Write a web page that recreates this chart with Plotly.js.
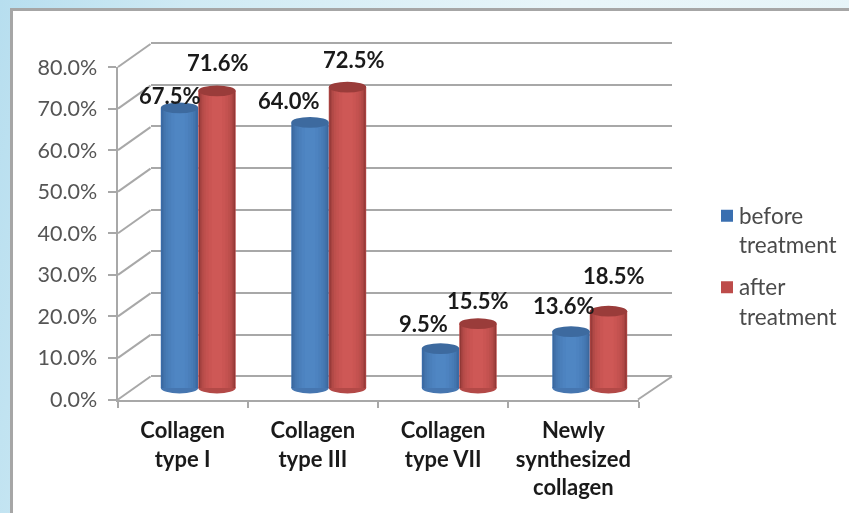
<!DOCTYPE html>
<html>
<head>
<meta charset="utf-8">
<script src="https://cdn.plot.ly/plotly-3.0.1.min.js"></script>
<style>
html,body{margin:0;padding:0;width:849px;height:513px;overflow:hidden;
background:linear-gradient(100deg,#b7deef 0%,#cfeaf4 20%,#e8f5f9 60%,#e6f4f8 100%);}
#chart{width:849px;height:513px;filter:blur(0.7px);}
</style>
</head>
<body>
<div id="chart"></div>
<script>
const categories = ['Collagen<br>type I','Collagen<br>type III','Collagen<br>type VII','Newly<br>synthesized<br>collagen'];
const beforeTreatment = [67.5,64.0,9.5,13.6];
const afterTreatment = [71.6,72.5,15.5,18.5];
const yTickValues = [0,10,20,30,40,50,60,70,80];
const yTickLabels = ['0.0%','10.0%','20.0%','30.0%','40.0%','50.0%','60.0%','70.0%','80.0%'];
const beforeLabelShift = [[-10,12],[-21,22],[-17,25],[-7,26]];
const afterLabelShift = [[1,28],[7,28],[0,23],[6,36]];
const blueShades = [[1,'#355f92'],[0.96,'#3b689e'],[0.9,'#4070a8'],[0.82,'#4476b0'],[0.72,'#477bb6'],[0.6,'#4a7fbb'],[0.45,'#4d83c0'],[0.28,'#4f86c3']];
const redShades = [[1,'#7e2f2d'],[0.96,'#913836'],[0.9,'#a64341'],[0.82,'#b44a48'],[0.72,'#bd4f4c'],[0.6,'#c45250'],[0.45,'#ca5553'],[0.28,'#ce5856']];

const W=849,H=513;
const xd=(a,b)=>[a/W,b/W], yd=(top,bot)=>[1-bot/H,1-top/H];
const barW=0.287;
const grey='#a8a8a8';
const traces=[];
traces.push({x:[],y:[],type:'scatter',xaxis:'x',yaxis:'y',showlegend:false,hoverinfo:'skip'});
function addSeries(vals,name,shades,sign,group,legendColor){
  shades.forEach((s,i)=>{
    traces.push({type:'bar',name:name,showlegend:i===0,legendgroup:group,xaxis:'x2',yaxis:'y2',
      x:vals.map((_,k)=>k+0.5+sign*barW/2),y:vals,width:barW*s[0],
      marker:{color:i===0?legendColor:s[1],line:{width:0}},hoverinfo:'skip'});
  });
}
addSeries(beforeTreatment,'before<br>treatment',blueShades,-1,'a','#3a6fb0');
addSeries(afterTreatment,'after<br>treatment',redShades,1,'b','#bd4c4a');
traces.push({x:[0],y:[0],type:'scatter',mode:'markers',marker:{opacity:0},xaxis:'x3',yaxis:'y3',showlegend:false,hoverinfo:'skip'});

const shapes=[];
shapes.push({type:'rect',xref:'paper',yref:'paper',x0:11.5/W,x1:870/W,y0:1-530/H,y1:1-9.5/H,layer:'below',
  fillcolor:'#ffffff',line:{color:'#a6a6a6',width:3}});
const frontBot=399.5,frontTop=67,dxD=32.5,dyD=23;
yTickValues.forEach(v=>{
  const py=frontBot-(frontBot-frontTop)*v/80;
  shapes.push({type:'line',xref:'paper',yref:'paper',layer:'below',x0:118/W,x1:(118+dxD)/W,y0:1-py/H,y1:1-(py-dyD)/H,line:{color:grey,width:2}});
});
shapes.push({type:'line',xref:'paper',yref:'paper',layer:'below',x0:638/W,x1:672/W,y0:1-frontBot/H,y1:1-(frontBot-dyD)/H,line:{color:grey,width:2}});
const capH=2.6;
function caps(vals,sign,bottomCol,topCol){
  vals.forEach((v,k)=>{
    const c=k+0.5+sign*barW/2, x0=c-barW/2, x1=c+barW/2;
    shapes.push({type:'circle',xref:'x2',yref:'y2',layer:'below',x0,x1,y0:-capH/2,y1:capH/2,fillcolor:bottomCol,line:{width:0}});
    shapes.push({type:'circle',xref:'x2',yref:'y2',layer:'above',x0,x1,y0:v-capH/2,y1:v+capH/2,fillcolor:topCol,line:{width:0}});
  });
}
caps(beforeTreatment,-1,'#4676b0','#3d6a9f');
caps(afterTreatment,1,'#b34947','#9a3c3a');

const annotations=[];
function labels(vals,sign,shift){
  vals.forEach((v,k)=>annotations.push({xref:'x2',yref:'y2',x:k+0.5+sign*barW/2,y:v,
    text:'<b>'+v.toFixed(1)+'%</b>',showarrow:false,xshift:shift[k][0],yshift:shift[k][1],
    font:{family:'Lato, sans-serif',size:22,color:'#1a1a1a'}}));
}
labels(beforeTreatment,-1,beforeLabelShift);
labels(afterTreatment,1,afterLabelShift);

const legendX=680, legendTargetX=707;
const layout={
  width:W,height:H,autosize:false,margin:{l:0,r:0,t:0,b:0},
  paper_bgcolor:'rgba(0,0,0,0)',plot_bgcolor:'rgba(0,0,0,0)',
  barmode:'overlay',shapes,annotations,
  font:{family:'Lato, sans-serif'},
  legend:{x:legendX/W,xanchor:'left',y:1-194/H,yanchor:'top',bgcolor:'rgba(0,0,0,0)',
    font:{family:'Lato, sans-serif',size:22.5,color:'#4a4a4a'},itemclick:false,itemwidth:30,tracegroupgap:10},
  xaxis:{domain:xd(150.5,672),range:[0,1],visible:false,anchor:'y'},
  yaxis:{domain:yd(41,378.5),range:[-0.5,80.5],anchor:'x',tickvals:yTickValues,showticklabels:false,ticks:'',
    showgrid:true,gridcolor:grey,gridwidth:2,zeroline:false,showline:false},
  xaxis2:{domain:xd(133,655),range:[0,4],visible:false,anchor:'y2'},
  yaxis2:{domain:yd(56,429.5),range:[-10,80],visible:false,anchor:'x2'},
  xaxis3:{domain:xd(117.5,638.5),range:[0,4],anchor:'y3',showgrid:false,zeroline:false,
    showline:true,linecolor:grey,linewidth:2,
    tickmode:'array',tickvals:categories.map((_,i)=>i+0.5),ticktext:categories.map(c=>'<b>'+c.split('<br>').join('</b><br><b>')+'</b>'),
    ticks:'',ticklabelstandoff:10,tickfont:{family:'Lato, sans-serif',size:22,color:'#1a1a1a'},
    minor:{tickmode:'array',tickvals:[0,1,2,3,4],ticks:'outside',ticklen:6,tickcolor:grey,tickwidth:2,showgrid:false}},
  yaxis3:{domain:yd(67,399.5),range:[0,80],anchor:'x3',showgrid:false,zeroline:false,
    showline:true,linecolor:grey,linewidth:2,
    tickmode:'array',tickvals:yTickValues,ticktext:yTickLabels,ticks:'outside',ticklen:8,tickcolor:grey,tickwidth:2,
    ticklabelstandoff:6,tickfont:{family:'Lato, sans-serif',size:21.5,color:'#555555'}}
};
Plotly.newPlot('chart',traces,layout,{displayModeBar:false}).then(gd=>{
  const lg=gd.querySelector('.legend');
  const m=/translate\(([-\d.]+),\s*([-\d.]+)\)/.exec(lg.getAttribute('transform'));
  lg.setAttribute('transform','translate('+(parseFloat(m[1])+legendTargetX-legendX)+','+m[2]+')');
  gd.querySelectorAll('.legend .traces').forEach(tr=>{
    const sym=tr.querySelector('.legendsymbols');
    if(sym) sym.setAttribute('transform','translate(0,-14)');
    tr.querySelectorAll('.legendtext,.legendtext tspan').forEach(t=>{
      if(t.hasAttribute('x')) t.setAttribute('x',parseFloat(t.getAttribute('x'))-8);
    });
  });
});
</script>
</body>
</html>
